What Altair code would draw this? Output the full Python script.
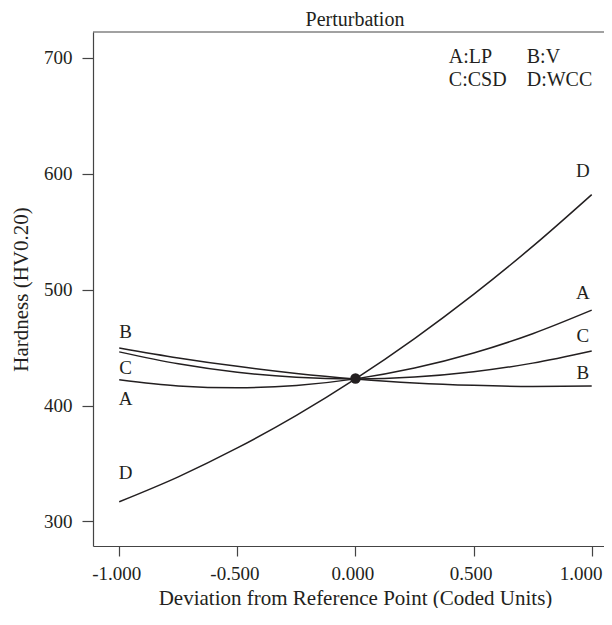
import altair as alt
import pandas as pd

# Coded deviation positions
x_vals = [-1.0, -0.75, -0.5, -0.25, 0.0, 0.25, 0.5, 0.75, 1.0]

# Hardness values
A_vals = [422.2, 416.9, 415.3, 417.3, 423.0, 432.3, 445.3, 462.0, 482.3]
B_vals = [449.7, 441.1, 433.8, 427.7, 423.0, 419.5, 417.4, 416.5, 416.9]
C_vals = [446.3, 436.0, 428.7, 424.4, 423.0, 424.6, 429.1, 436.6, 447.1]
D_vals = [317.0, 338.5, 363.4, 391.5, 423.0, 457.8, 495.9, 537.3, 582.0]

factors = ["A", "B", "C", "D"]

# Reference point
ref_x = [0.0]
ref_y = [423.3]

# Curve end labels (data coordinates)
label_text = ["B", "C", "A", "D", "A", "C", "B", "D"]
label_x = [-0.973, -0.973, -0.973, -0.973, 0.962, 0.962, 0.962, 0.962]
label_y = [463.2, 432.2, 405.3, 341.6, 497.2, 460.4, 427.9, 602.0]

# Factor key text
key_text = ["A:LP", "B:V", "C:CSD", "D:WCC"]
key_x = [0.395, 0.725, 0.395, 0.725]
key_y = [701.0, 701.0, 681.0, 681.0]

x_ticks = [-1.0, -0.5, 0.0, 0.5, 1.0]
y_ticks = [300, 400, 500, 600, 700]

rows = []
for f, vals in zip(factors, [A_vals, B_vals, C_vals, D_vals]):
    for xv, yv in zip(x_vals, vals):
        rows.append({"factor": f, "x": xv, "y": yv})
curves = pd.DataFrame(rows)
ref = pd.DataFrame({"x": ref_x, "y": ref_y})
labels = pd.DataFrame({"t": label_text, "x": label_x, "y": label_y})
keys = pd.DataFrame({"t": key_text, "x": key_x, "y": key_y})
title_df = pd.DataFrame({"t": ["Perturbation"]})

FONT = "Liberation Serif"
INK = "#231f20"
AXC = "#444444"
W, H = 511, 514

xscale = alt.Scale(domain=[-1.111, 1.052], nice=False, zero=False)
yscale = alt.Scale(domain=[278.8, 722.3], nice=False, zero=False)

xaxis = alt.Axis(
    values=x_ticks, format=".3f", grid=False,
    labelExpr="replace(datum.label, '\u2212', '-')",
    labelOffset={"condition": {"test": "datum.value >= 0.99", "value": -11}, "value": -3},
    title="Deviation from Reference Point (Coded Units)",
    titleX=262, titleY=58, titleBaseline="alphabetic",
    tickSize=10, labelPadding=8,
)
yaxis = alt.Axis(
    values=y_ticks, format="d", grid=False,
    title="Hardness (HV0.20)",
    titleX=-66, titleY=H / 2, titleBaseline="alphabetic", titleAngle=-90,
    tickSize=11, labelPadding=10,
)

lines = alt.Chart(curves).mark_line(
    color=INK, strokeWidth=1.5, interpolate="monotone"
).encode(
    x=alt.X("x:Q", scale=xscale, axis=xaxis),
    y=alt.Y("y:Q", scale=yscale, axis=yaxis),
    detail="factor:N",
)

dot = alt.Chart(ref).mark_point(
    filled=True, size=110, color=INK, opacity=1
).encode(x=alt.X("x:Q", scale=xscale), y=alt.Y("y:Q", scale=yscale))

lab = alt.Chart(labels).mark_text(
    font=FONT, fontSize=19, color=INK, align="center", baseline="middle"
).encode(x=alt.X("x:Q", scale=xscale), y=alt.Y("y:Q", scale=yscale), text="t:N")

key = alt.Chart(keys).mark_text(
    font=FONT, fontSize=20, color=INK, align="left", baseline="middle"
).encode(x=alt.X("x:Q", scale=xscale), y=alt.Y("y:Q", scale=yscale), text="t:N")

top_line = alt.Chart(ref).mark_rule(color=AXC, strokeWidth=1.2).encode(
    x=alt.value(0), x2=alt.value(W), y=alt.value(0)
)

title = alt.Chart(title_df).mark_text(
    font=FONT, fontSize=20, color=INK, align="center", baseline="alphabetic"
).encode(x=alt.value(262), y=alt.value(-6), text="t:N")

chart = alt.layer(lines, dot, lab, key, top_line, title).properties(
    width=W, height=H,
    autosize=alt.AutoSizeParams(type="none"),
    padding={"left": 85, "top": 24, "right": 0, "bottom": 62},
).configure_view(stroke=None).configure_axis(
    labelFont=FONT, labelFontSize=19, labelColor=INK,
    titleFont=FONT, titleFontSize=21, titleFontWeight="normal", titleColor=INK,
    domainColor=AXC, domainWidth=1.2, tickColor=AXC, tickWidth=1.2,
)

chart.save("out.html", embed_options={"renderer": "svg", "actions": False})
